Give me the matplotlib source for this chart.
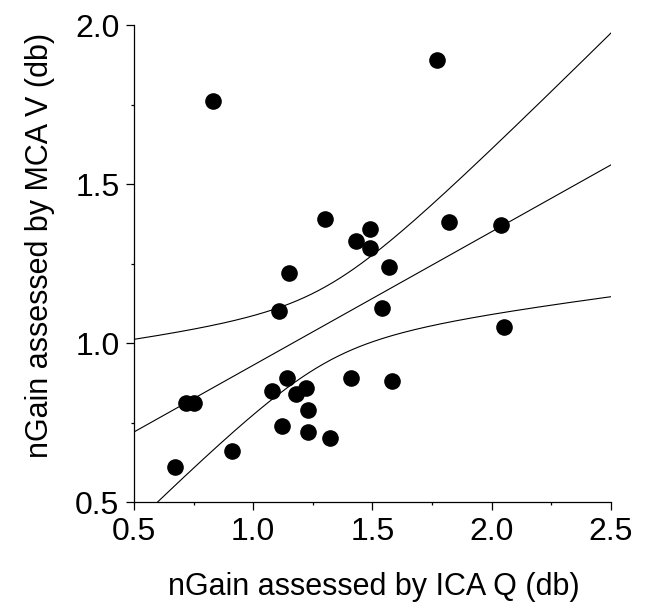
"""Scatter of nGain (MCA V vs ICA Q) with linear fit and 95% confidence band."""

import matplotlib

matplotlib.use("Agg")
import matplotlib.pyplot as plt
import numpy as np
from matplotlib.ticker import MultipleLocator

plt.rcParams["font.family"] = ["Liberation Sans", "DejaVu Sans"]

# values
ica_q = [0.83, 1.77, 1.30, 1.49, 1.43, 1.49, 1.15, 1.57, 1.82, 2.04,
         1.11, 1.54, 2.05, 0.72, 0.75, 0.67, 0.91, 1.08, 1.14, 1.18,
         1.22, 1.23, 1.12, 1.23, 1.32, 1.41, 1.58]
mca_v = [1.76, 1.89, 1.39, 1.36, 1.32, 1.30, 1.22, 1.24, 1.38, 1.37,
         1.10, 1.11, 1.05, 0.81, 0.81, 0.61, 0.66, 0.85, 0.89, 0.84,
         0.86, 0.79, 0.74, 0.72, 0.70, 0.89, 0.88]
x_ticks = [0.5, 1.0, 1.5, 2.0, 2.5]
y_ticks = [0.5, 1.0, 1.5, 2.0]
T_CRIT = 2.060  # t(0.975, df=25)

x = np.array(ica_q)
y = np.array(mca_v)
n = len(x)
slope, intercept = np.polyfit(x, y, 1)
resid = y - (slope * x + intercept)
s = np.sqrt(np.sum(resid ** 2) / (n - 2))
sxx = np.sum((x - x.mean()) ** 2)

xx = np.linspace(0.5, 2.5, 200)
fit = slope * xx + intercept
hw = T_CRIT * s * np.sqrt(1 / n + (xx - x.mean()) ** 2 / sxx)

fig = plt.figure(figsize=(6.46, 6.10), dpi=100)
ax = fig.add_axes([0.2074, 0.177, 0.7384, 0.782])

ax.plot(xx, fit, color="black", lw=0.8)
ax.plot(xx, fit + hw, color="black", lw=0.8)
ax.plot(xx, fit - hw, color="black", lw=0.8)
ax.scatter(x, y, s=120, color="black", zorder=3, clip_on=False)

ax.set_xlim(0.5, 2.5)
ax.set_ylim(0.5, 2.0)
ax.xaxis.set_minor_locator(MultipleLocator(0.25))
ax.yaxis.set_minor_locator(MultipleLocator(0.25))
ax.set_xticks(x_ticks)
ax.set_xticklabels([f"{v:.1f}" for v in x_ticks])
ax.set_yticks(y_ticks)
ax.set_yticklabels([f"{v:.1f}" for v in y_ticks])
ax.tick_params(which="major", direction="out", length=5.5, width=0.9,
               labelsize=23, pad=5)
ax.tick_params(which="minor", direction="out", length=2.2, width=0.9)
for side in ("top", "right"):
    ax.spines[side].set_visible(False)
for side in ("left", "bottom"):
    ax.spines[side].set_linewidth(0.9)

fig.text(0.579, 0.037, "nGain assessed by ICA Q (db)", fontsize=22,
         ha="center", va="center")
fig.text(0.062, 0.598, "nGain assessed by MCA V (db)", fontsize=22,
         ha="center", va="center", rotation=90)

fig.savefig("out.png", dpi=100)
